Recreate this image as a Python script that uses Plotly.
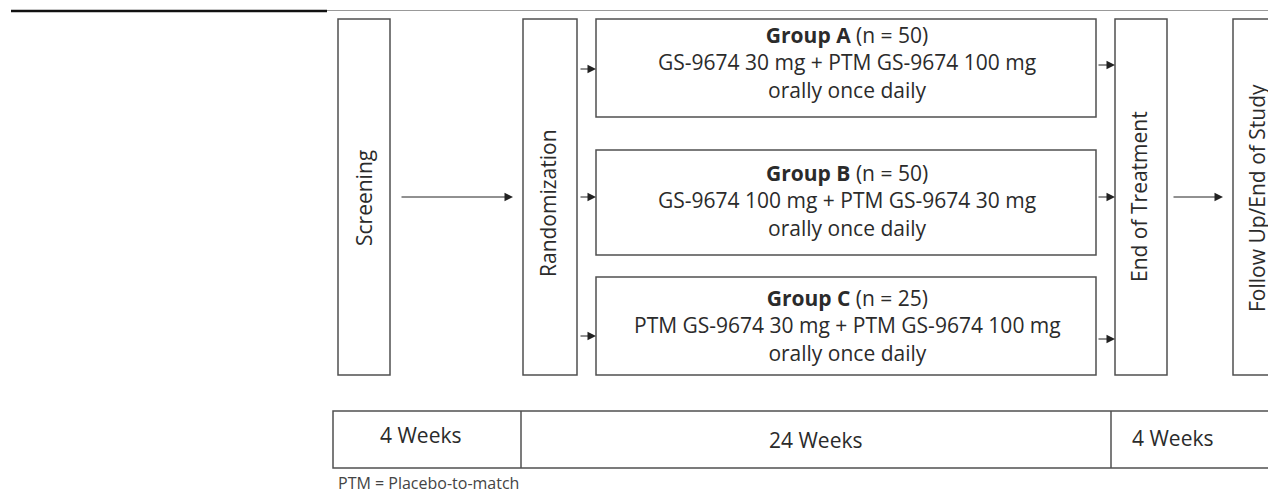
import plotly.graph_objects as go

# ---- content ----
stage_labels = ["Screening", "Randomization", "End of Treatment", "Follow Up/End of Study"]
group_titles = ["Group A", "Group B", "Group C"]
group_n = [50, 50, 25]
group_regimens = [
    "GS-9674 30 mg + PTM GS-9674 100 mg",
    "GS-9674 100 mg + PTM GS-9674 30 mg",
    "PTM GS-9674 30 mg + PTM GS-9674 100 mg",
]
group_route = ["orally once daily", "orally once daily", "orally once daily"]
period_labels = ["4 Weeks", "24 Weeks", "4 Weeks"]
footnote = "PTM = Placebo-to-match"

# ---- layout geometry (page pixels; page body has an 8px margin) ----
PAGE_W, PAGE_H, OFF = 1276, 493, 8
FONT = "Open Sans, Noto Sans, sans-serif"
TXT = "#2b2b2b"
EDGE = "#505050"

stage_x = [(338, 390), (523, 577), (1115, 1167), (1233, 1300)]
stage_y = (19, 375)
stage_text_x = [364, 548, 1139, 1257]
stage_text_y = [198, 203, 197, 198]

group_x = (596, 1096)
group_y = [(19, 117), (150, 255), (277, 375)]
group_text_y = [62, 200, 325]
arrow_in_y = [69, 197, 336]
arrow_out_y = [65, 197, 339]

fig = go.Figure()
fig.add_trace(go.Scatter(x=[OFF, PAGE_W], y=[OFF, PAGE_H], mode="markers", marker=dict(opacity=0),
                         hoverinfo="skip", showlegend=False))

shapes = []
ann = []

# top rule
shapes.append(dict(type="line", x0=11, x1=327, y0=11, y1=11, line=dict(color="#111", width=2.5)))
shapes.append(dict(type="line", x0=327, x1=PAGE_W + 10, y0=10.5, y1=10.5, line=dict(color="#999", width=1)))

# stage boxes
for (x0, x1), label, tx, ty in zip(stage_x, stage_labels, stage_text_x, stage_text_y):
    shapes.append(dict(type="rect", x0=x0, x1=x1, y0=stage_y[0], y1=stage_y[1],
                       line=dict(color=EDGE, width=1.5), fillcolor="white"))
    ann.append(dict(x=tx, y=ty, text=label, textangle=-90, showarrow=False,
                    font=dict(family=FONT, size=21, color=TXT)))

# group boxes
for i in range(3):
    y0, y1 = group_y[i]
    shapes.append(dict(type="rect", x0=group_x[0], x1=group_x[1], y0=y0, y1=y1,
                       line=dict(color=EDGE, width=1.5), fillcolor="white"))
    txt = (f"<b>{group_titles[i]}</b> (n = {group_n[i]})<br>"
           f"{group_regimens[i]}<br>{group_route[i]}")
    ann.append(dict(x=847, y=group_text_y[i], text=txt, showarrow=False, align="center",
                    font=dict(family=FONT, size=21, color=TXT)))

def arrow(x0, x1, y):
    return dict(x=x1, y=y, ax=x0, ay=y, xref="x", yref="y", axref="x", ayref="y",
                showarrow=True, arrowhead=2, arrowsize=1.7, arrowwidth=1,
                arrowcolor="#222", text="")

ann.append(arrow(400, 513, 197))
ann.append(arrow(1172, 1223, 197))
for y in arrow_in_y:
    ann.append(arrow(579, 596, y))
for y in arrow_out_y:
    ann.append(arrow(1097, 1115, y))

# timeline
shapes.append(dict(type="rect", x0=333, x1=1300, y0=411, y1=468, line=dict(color=EDGE, width=1.5)))
for xd in (521, 1111):
    shapes.append(dict(type="line", x0=xd, x1=xd, y0=411, y1=468, line=dict(color=EDGE, width=1.5)))
period_x = [420, 816, 1172]
period_y = [435, 440, 438]
for lab, px, py in zip(period_labels, period_x, period_y):
    ann.append(dict(x=px, y=py, text=lab, showarrow=False, font=dict(family=FONT, size=21, color=TXT)))

ann.append(dict(x=337, y=483, text=footnote, showarrow=False, xanchor="left", borderpad=0,
                font=dict(family=FONT, size=16, color="#444")))

fig.update_layout(
    width=PAGE_W - OFF, height=PAGE_H - OFF, margin=dict(l=0, r=0, t=0, b=0),
    paper_bgcolor="white", plot_bgcolor="white",
    xaxis=dict(range=[OFF, PAGE_W], visible=False, fixedrange=True),
    yaxis=dict(range=[PAGE_H, OFF], visible=False, fixedrange=True),
    shapes=shapes, annotations=ann, showlegend=False,
)
fig.write_html("out.html")
